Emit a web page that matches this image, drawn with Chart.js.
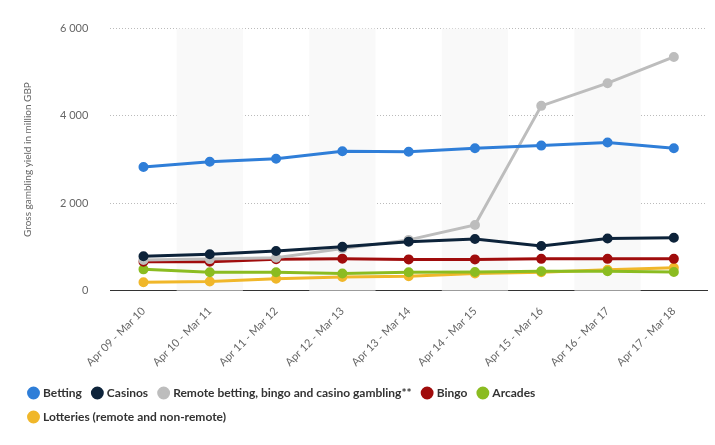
<!DOCTYPE html>
<html><head><meta charset="utf-8">
<script src="https://cdn.jsdelivr.net/npm/chart.js@4/dist/chart.umd.min.js"></script>
<style>body{margin:0;background:#fff}#wrap{width:715px;height:445px}</style>
</head><body><div id="wrap"><canvas id="c"></canvas></div>
<script>
const labels = ['Apr 09 - Mar 10','Apr 10 - Mar 11','Apr 11 - Mar 12','Apr 12 - Mar 13','Apr 13 - Mar 14','Apr 14 - Mar 15','Apr 15 - Mar 16','Apr 16 - Mar 17','Apr 17 - Mar 18'];
const betting = [2830, 2950, 3020, 3190, 3180, 3260, 3320, 3390, 3260];
const casinos = [785, 830, 905, 1000, 1120, 1180, 1020, 1190, 1210];
const remote = [700, 720, 750, 960, 1160, 1500, 4230, 4750, 5350];
const bingo = [660, 660, 715, 730, 713, 713, 725, 725, 725];
const arcades = [485, 420, 420, 390, 420, 425, 440, 440, 425];
const lotteries = [190, 205, 270, 310, 325, 390, 420, 475, 520];

function ds(label, data, color) {
    return { label: label, data: data, borderColor: color, backgroundColor: color, borderWidth: 3,
        pointRadius: 3.5, pointHoverRadius: 3.5, pointStyle: 'circle', tension: 0 };
}

const stripes = {
    id: 'stripes',
    beforeDatasetsDraw(chart) {
        const x = chart.scales.x, a = chart.chartArea, ctx = chart.ctx;
        ctx.save(); ctx.fillStyle = '#f9f9f9';
        for (let i = 1; i < labels.length; i += 2) {
            const l = x.getPixelForValue(i - 0.5), r = x.getPixelForValue(i + 0.5);
            ctx.fillRect(l, a.top, r - l, a.bottom - a.top);
        }
        ctx.restore();
    }
};

new Chart(document.getElementById('c'), {
    type: 'line',
    data: {
        labels: labels,
        datasets: [
            ds('Betting', betting, '#2f7ed8'),
            ds('Casinos', casinos, '#0d233a'),
            ds('Remote betting, bingo and casino gambling**', remote, '#bdbdbd'),
            ds('Bingo', bingo, '#a00c0c'),
            ds('Arcades', arcades, '#8bbc21'),
            ds('Lotteries (remote and non-remote)', lotteries, '#f0b72a')
        ]
    },
    plugins: [stripes],
    options: {
        responsive: true, maintainAspectRatio: false, animation: false,
        layout: { padding: { left: 18, right: 8, top: 20, bottom: 12 } },
        plugins: {
            legend: { position: 'bottom', align: 'start',
                labels: { usePointStyle: true, boxWidth: 7, boxHeight: 7, padding: 12,
                    color: '#333', font: { family: 'Lato', size: 12, weight: 'bold' } } },
            tooltip: { enabled: false }
        },
        scales: {
            x: { offset: true, grid: { display: false },
                border: { color: '#333', width: 1 },
                ticks: { maxRotation: 45, minRotation: 45, padding: 6, color: '#666', font: { family: 'Lato', size: 11 } } },
            y: { min: 0, max: 6000,
                grid: { color: '#bbb', tickLength: 0, drawTicks: false },
                border: { display: false, dash: [1, 2] },
                ticks: { stepSize: 2000, padding: 22, color: '#666', font: { family: 'Lato', size: 11 },
                    callback: v => v === 0 ? '0' : String(v).replace(/(\d)(\d{3})$/, '$1 $2') },
                title: { display: true, text: 'Gross gambling yield in million GBP', color: '#666',
                    font: { family: 'Lato', size: 10 } } }
        }
    }
});
</script></body></html>
